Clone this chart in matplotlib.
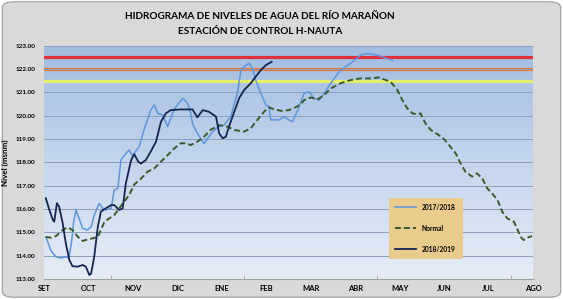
import matplotlib.pyplot as plt
import numpy as np
from matplotlib.patches import FancyBboxPatch
from matplotlib.colors import LinearSegmentedColormap

plt.rcParams['font.family'] = ['Lato', 'DejaVu Sans']

# eje x en meses desde SET (0) hasta AGO (11)
months = ["SET", "OCT", "NOV", "DIC", "ENE", "FEB", "MAR", "ABR", "MAY", "JUN", "JUL", "AGO"]

x_1718 = [0.04, 0.16, 0.27, 0.38, 0.49, 0.56, 0.62, 0.67, 0.72, 0.87, 0.98, 1.06, 1.13, 1.24,
          1.32, 1.39, 1.51, 1.58, 1.66, 1.73, 1.84, 1.92, 1.99, 2.07, 2.14, 2.25, 2.40, 2.48,
          2.56, 2.67, 2.78, 2.89, 2.97, 3.12, 3.23, 3.30, 3.34, 3.45, 3.60, 3.68, 3.79, 3.90,
          4.05, 4.20, 4.35, 4.43, 4.50, 4.61, 4.69, 4.76, 4.88, 4.99, 5.06, 5.10, 5.29, 5.40,
          5.51, 5.59, 5.74, 5.85, 5.96, 6.07, 6.19, 6.30, 6.45, 6.67, 6.90, 7.12, 7.27, 7.50, 7.84]
y_1718 = [114.80, 114.20, 113.95, 113.90, 113.95, 113.90, 114.60, 115.50, 115.95, 115.17, 115.10,
          115.24, 115.74, 116.24, 116.03, 115.96, 116.03, 116.82, 116.88, 118.10, 118.39, 118.53,
          118.28, 118.50, 118.67, 119.39, 120.24, 120.46, 120.10, 120.03, 119.53, 120.10, 120.39,
          120.75, 120.53, 120.10, 119.67, 119.24, 118.80, 119.03, 119.30, 119.50, 119.60, 119.96,
          120.96, 121.96, 122.10, 122.25, 122.03, 121.53, 120.96, 120.46, 120.39, 119.82, 119.82,
          119.96, 119.82, 119.74, 120.39, 120.96, 121.03, 120.75, 120.67, 120.96, 121.39, 121.96,
          122.25, 122.60, 122.67, 122.60, 122.36]

x_normal = [0.04, 0.16, 0.27, 0.42, 0.53, 0.64, 0.76, 0.87, 0.98, 1.09, 1.21, 1.28, 1.36, 1.47,
            1.58, 1.69, 1.80, 1.92, 2.03, 2.18, 2.33, 2.48, 2.63, 2.78, 2.93, 3.08, 3.19, 3.30,
            3.45, 3.60, 3.75, 3.94, 4.13, 4.28, 4.50, 4.65, 4.80, 4.95, 5.06, 5.18, 5.33, 5.51,
            5.66, 5.78, 5.85, 6.00, 6.15, 6.30, 6.45, 6.67, 6.90, 7.12, 7.35, 7.53, 7.69, 7.80,
            7.95, 8.06, 8.17, 8.29, 8.40, 8.47, 8.58, 8.70, 8.85, 9.00, 9.11, 9.26, 9.37, 9.48,
            9.63, 9.74, 9.86, 9.97, 10.08, 10.20, 10.31, 10.42, 10.57, 10.64, 10.72, 10.79,
            10.87, 10.98]
y_normal = [114.80, 114.77, 114.84, 115.10, 115.22, 115.10, 114.81, 114.63, 114.70, 114.74,
            114.81, 115.10, 115.46, 115.60, 115.74, 116.03, 116.30, 116.62, 117.05, 117.30,
            117.60, 117.74, 118.03, 118.31, 118.60, 118.82, 118.82, 118.74, 118.89, 119.10,
            119.40, 119.60, 119.53, 119.39, 119.32, 119.46, 119.82, 120.17, 120.36, 120.27,
            120.21, 120.24, 120.36, 120.50, 120.67, 120.78, 120.70, 120.88, 121.17, 121.39,
            121.53, 121.60, 121.60, 121.64, 121.53, 121.45, 121.10, 120.67, 120.32, 120.10,
            120.06, 120.10, 119.67, 119.39, 119.21, 119.00, 118.74, 118.39, 117.96, 117.60,
            117.39, 117.53, 117.31, 116.89, 116.67, 116.39, 115.88, 115.60, 115.46, 115.17,
            114.81, 114.67, 114.77, 114.84]

x_1819 = [0.04, 0.12, 0.20, 0.23, 0.29, 0.34, 0.42, 0.49, 0.57, 0.64, 0.76, 0.87, 0.94, 1.02,
          1.06, 1.13, 1.21, 1.28, 1.39, 1.51, 1.58, 1.69, 1.77, 1.84, 1.96, 2.03, 2.12, 2.18,
          2.29, 2.40, 2.52, 2.63, 2.74, 2.85, 3.08, 3.34, 3.45, 3.57, 3.71, 3.87, 3.94, 4.02,
          4.09, 4.16, 4.28, 4.39, 4.50, 4.65, 4.76, 4.88, 4.99, 5.12]
y_1819 = [116.46, 115.96, 115.53, 115.46, 116.25, 116.10, 115.39, 114.53, 113.81, 113.55,
          113.53, 113.60, 113.53, 113.17, 113.24, 113.96, 115.24, 115.89, 116.03, 116.17,
          116.17, 115.96, 116.03, 117.10, 118.10, 118.35, 118.03, 117.95, 118.10, 118.46,
          118.89, 119.74, 120.10, 120.24, 120.27, 120.27, 119.93, 120.24, 120.17, 119.96,
          119.24, 119.03, 119.10, 119.53, 120.17, 120.75, 121.10, 121.39, 121.67, 121.96,
          122.17, 122.31]

# niveles de alerta
alert_levels = [122.5, 122.0, 121.5]
alert_colors = ['#E0303A', '#E8793A', '#E4F06A']

fig = plt.figure(figsize=(5.63, 2.99), dpi=100)
fig.patch.set_facecolor('white')
fig.patches.append(FancyBboxPatch((0.004, 0.006), 0.992, 0.988, boxstyle="round,pad=0,rounding_size=0.02",
                                  transform=fig.transFigure, facecolor='#D9D9D9',
                                  edgecolor='#9A9A9A', linewidth=0.8, zorder=-10))

ax = fig.add_axes([0.0782, 0.0669, 0.8685, 0.7801])
ax.set_xlim(0, 11)
ax.set_ylim(113, 123)

# fondo degradado
grad = np.linspace(0, 1, 256).reshape(-1, 1)
cmap = LinearSegmentedColormap.from_list('bg', ['#E6EDF7', '#A2BDE2'])
ax.imshow(grad, extent=[0, 11, 113, 123], aspect='auto', origin='lower', cmap=cmap, zorder=0)

ax.set_yticks(np.arange(113, 123.5, 1))
ax.yaxis.grid(True, color='#8E9FBA', linewidth=0.7, zorder=1)
ax.set_axisbelow(False)

for lvl, c in zip(alert_levels, alert_colors):
    ax.axhline(lvl, color=c, linewidth=2.3, zorder=2)

ax.plot(x_1718, y_1718, color='#5F95DA', linewidth=1.1, label='2017/2018', zorder=3)
ax.plot(x_normal, y_normal, color='#3B5A2A', linewidth=1.4, linestyle=(0, (3, 1.6)),
        label='Normal', zorder=4)
ax.plot(x_1819, y_1819, color='#14254F', linewidth=1.3, label='2018/2019', zorder=5)

ax.set_xticks(range(len(months)))
ax.set_xticklabels(months, fontsize=5.5, fontweight='bold')
ax.set_xticks(np.arange(1.5, 11, 1.5), minor=True)
ax.tick_params(axis='x', which='major', length=0, pad=4)
ax.tick_params(axis='x', which='minor', length=3, direction='in', color='#A0A0A0')
ax.set_yticklabels([f"{v:.2f}" for v in np.arange(113, 123.5, 1)], fontsize=4.6, fontweight='bold')
ax.tick_params(axis='y', length=0, pad=6)
for s in ['top', 'right', 'left']:
    ax.spines[s].set_visible(False)
ax.spines['bottom'].set_color('#A0A0A0')
ax.set_ylabel("Nivel (msnm)", fontsize=5.8, fontweight='bold', labelpad=5)

leg = ax.legend(loc='lower left', bbox_to_anchor=(0.698, 0.073, 0.165, 0.231), mode='expand',
                prop={'size': 4.8, 'weight': 'bold'}, frameon=True, fancybox=False,
                facecolor='#E9CB8C', edgecolor='none', framealpha=1, labelspacing=2.1,
                handlelength=3.2, borderpad=0.9)

fig.text(0.462, 0.945, "HIDROGRAMA DE NIVELES DE AGUA DEL RÍO MARAÑON", ha='center', va='center',
         fontsize=7.2, fontweight='bold')
fig.text(0.462, 0.893, "ESTACIÓN DE CONTROL H-NAUTA", ha='center', va='center',
         fontsize=7.2, fontweight='bold')

fig.savefig('out.png', dpi=100)
